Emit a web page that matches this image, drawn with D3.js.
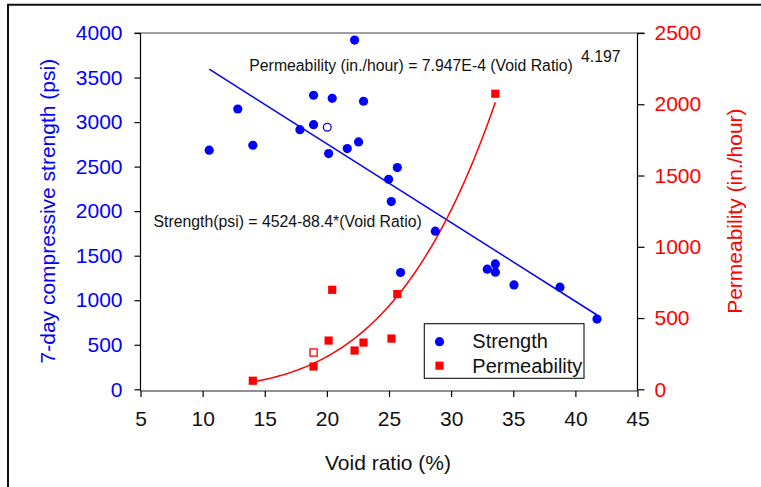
<!DOCTYPE html>
<html>
<head>
<meta charset="utf-8">
<script src="https://cdn.jsdelivr.net/npm/d3@7"></script>
<style>
  html, body { margin: 0; padding: 0; background: #fff; }
  svg { display: block; font-family: "Liberation Sans", Arial, sans-serif; }
</style>
</head>
<body>
<svg id="chart" width="761" height="487"></svg>
<script>
// ---- Data ----
const strengthVoid = [10.53, 12.83, 14.04, 17.83, 18.93, 18.93, 20.43, 20.14, 22.23, 21.64, 22.55, 22.95, 24.97, 25.18, 25.67, 28.73, 25.93, 32.91, 33.56, 33.56, 35.06, 38.76, 41.74];
const strengthPsi  = [2684, 3147, 2740, 2915, 3301, 2971, 3267, 2646, 3921, 2702, 2777, 3234, 2358, 2107, 2489, 1775, 1311, 1349, 1408, 1315, 1172, 1147, 788];
const strengthOpenVoid = [20.03];
const strengthOpenPsi  = [2942];

const permVoid = [14.04, 18.93, 20.14, 20.43, 22.23, 22.95, 25.2, 25.67, 33.56];
const permRate = [60, 160, 342, 698, 272, 328, 356, 668, 2074];
const permOpenVoid = [18.93];
const permOpenRate = [258];

const strengthFit = { intercept: 4524, slope: -88.4 };
const permFit = { coef: 7.947e-4, exp: 4.197 };

const xTicks = [5, 10, 15, 20, 25, 30, 35, 40, 45];
const yLeftTicks = [0, 500, 1000, 1500, 2000, 2500, 3000, 3500, 4000];
const yRightTicks = [0, 500, 1000, 1500, 2000, 2500];

const legendLabels = ["Strength", "Permeability"];

// ---- Layout ----
const BLUE = "#0000ff", RED = "#ff0000";
const svg = d3.select("#chart");
const x0 = 140.5, x1 = 637.5, yBottom = 389.3, yTop = 33, xAxisY = 391;
const fmt = d3.format("d");

const x = d3.scaleLinear().domain([5, 45]).range([x0, x1]);
const yL = d3.scaleLinear().domain([0, 4000]).range([yBottom, yTop]);
const yR = d3.scaleLinear().domain([0, 2500]).range([yBottom, yTop]);

// outer frame (top and left visible)
svg.append("path").attr("d", "M8,495 V4.7 H770").attr("fill", "none")
  .attr("stroke", "#111").attr("stroke-width", 2);

// top gray frame line
svg.append("line").attr("x1", x0 - 6).attr("x2", x1 + 7).attr("y1", yTop).attr("y2", yTop)
  .attr("stroke", "#808080").attr("stroke-width", 1.4);

// axis lines
svg.append("line").attr("x1", x0).attr("x2", x0).attr("y1", yTop).attr("y2", xAxisY).attr("stroke", "#000").attr("stroke-width", 1.2);
svg.append("line").attr("x1", x1).attr("x2", x1).attr("y1", yTop).attr("y2", xAxisY).attr("stroke", "#000").attr("stroke-width", 1.2);
svg.append("line").attr("x1", x0).attr("x2", x1).attr("y1", xAxisY).attr("y2", xAxisY).attr("stroke", "#222").attr("stroke-width", 1.2);

// axes
const gL = svg.append("g").attr("transform", `translate(${x0},0)`)
  .call(d3.axisLeft(yL).tickValues(yLeftTicks).tickFormat(fmt).tickSize(6).tickPadding(12).tickSizeOuter(0));
gL.select(".domain").remove();
gL.selectAll(".tick line").attr("stroke", "#000").attr("stroke-width", 1.2);
gL.selectAll(".tick text").attr("fill", BLUE).style("font-size", "21px").style("font-family", "Liberation Sans, Arial, sans-serif");

const gR = svg.append("g").attr("transform", `translate(${x1},0)`)
  .call(d3.axisRight(yR).tickValues(yRightTicks).tickFormat(fmt).tickSize(7).tickPadding(10).tickSizeOuter(0));
gR.select(".domain").remove();
gR.selectAll(".tick line").attr("stroke", "#000").attr("stroke-width", 1.2);
gR.selectAll(".tick text").attr("fill", RED).style("font-size", "21px").style("font-family", "Liberation Sans, Arial, sans-serif");

const gB = svg.append("g").attr("transform", `translate(0,${xAxisY})`)
  .call(d3.axisBottom(x).tickValues(xTicks).tickFormat(fmt).tickSize(6).tickPadding(14).tickSizeOuter(0));
gB.select(".domain").remove();
gB.selectAll(".tick line").attr("stroke", "#000").attr("stroke-width", 1.2);
gB.selectAll(".tick text").attr("fill", "#111").style("font-size", "21px").style("font-family", "Liberation Sans, Arial, sans-serif");

// axis titles
svg.append("text").attr("x", 388).attr("y", 470).attr("text-anchor", "middle")
  .attr("fill", "#111").style("font-size", "21px").text("Void ratio (%)");
svg.append("text").attr("transform", `translate(55,${(yTop + yBottom) / 2}) rotate(-90)`)
  .attr("text-anchor", "middle").attr("fill", BLUE).style("font-size", "21px")
  .text("7-day compressive strength (psi)");
svg.append("text").attr("transform", `translate(742,${(yTop + yBottom) / 2}) rotate(-90)`)
  .attr("text-anchor", "middle").attr("fill", RED).style("font-size", "21px")
  .text("Permeability (in./hour)");

// fit lines
const sMin = d3.min(strengthVoid), sMax = d3.max(strengthVoid);
const sLine = d3.line().x(d => x(d)).y(d => yL(strengthFit.intercept + strengthFit.slope * d));
svg.append("path").attr("d", sLine([sMin, sMax])).attr("fill", "none")
  .attr("stroke", BLUE).attr("stroke-width", 1.5);

const pMin = d3.min(permVoid), pMax = d3.max(permVoid);
const pSamples = d3.range(0, 101).map(i => pMin + (pMax - pMin) * i / 100);
const pLine = d3.line().x(d => x(d)).y(d => yR(permFit.coef * Math.pow(d, permFit.exp)));
svg.append("path").attr("d", pLine(pSamples)).attr("fill", "none")
  .attr("stroke", RED).attr("stroke-width", 1.5);

// points
svg.append("g").selectAll("circle").data(d3.zip(strengthVoid, strengthPsi)).join("circle")
  .attr("cx", d => x(d[0])).attr("cy", d => yL(d[1])).attr("r", 4.6).attr("fill", BLUE);
svg.append("g").selectAll("circle").data(d3.zip(strengthOpenVoid, strengthOpenPsi)).join("circle")
  .attr("cx", d => x(d[0])).attr("cy", d => yL(d[1])).attr("r", 3.9).attr("fill", "#fff")
  .attr("stroke", BLUE).attr("stroke-width", 1.3);

const sq = 8.2;
svg.append("g").selectAll("rect").data(d3.zip(permVoid, permRate)).join("rect")
  .attr("x", d => x(d[0]) - sq / 2).attr("y", d => yR(d[1]) - sq / 2)
  .attr("width", sq).attr("height", sq).attr("fill", RED);
svg.append("g").selectAll("rect").data(d3.zip(permOpenVoid, permOpenRate)).join("rect")
  .attr("x", d => x(d[0]) - 3.6).attr("y", d => yR(d[1]) - 3.6)
  .attr("width", 7.2).attr("height", 7.2).attr("fill", "#fff")
  .attr("stroke", RED).attr("stroke-width", 1.3);

// equations
svg.append("text").attr("x", 249.3).attr("y", 70.7).attr("fill", "#111").style("font-size", "15.8px")
  .text("Permeability (in./hour) = 7.947E-4 (Void Ratio)");
svg.append("text").attr("x", 581).attr("y", 61.7).attr("fill", "#111").style("font-size", "15.8px").text("4.197");
svg.append("text").attr("x", 153.5).attr("y", 227.3).attr("fill", "#111").style("font-size", "15.8px")
  .text("Strength(psi) = 4524-88.4*(Void Ratio)");

// legend
const lg = svg.append("g");
lg.append("rect").attr("x", 424.3).attr("y", 323.7).attr("width", 159.7).attr("height", 54.6)
  .attr("fill", "#fff").attr("stroke", "#111").attr("stroke-width", 1.1);
lg.append("circle").attr("cx", 439.5).attr("cy", 341.7).attr("r", 4.6).attr("fill", BLUE);
lg.append("rect").attr("x", 439.5 - sq / 2).attr("y", 365.7 - sq / 2).attr("width", sq).attr("height", sq).attr("fill", RED);
lg.append("text").attr("x", 472.3).attr("y", 348).attr("fill", "#111").style("font-size", "20px").text(legendLabels[0]);
lg.append("text").attr("x", 472.3).attr("y", 372.5).attr("fill", "#111").style("font-size", "20px").text(legendLabels[1]);
</script>
</body>
</html>
